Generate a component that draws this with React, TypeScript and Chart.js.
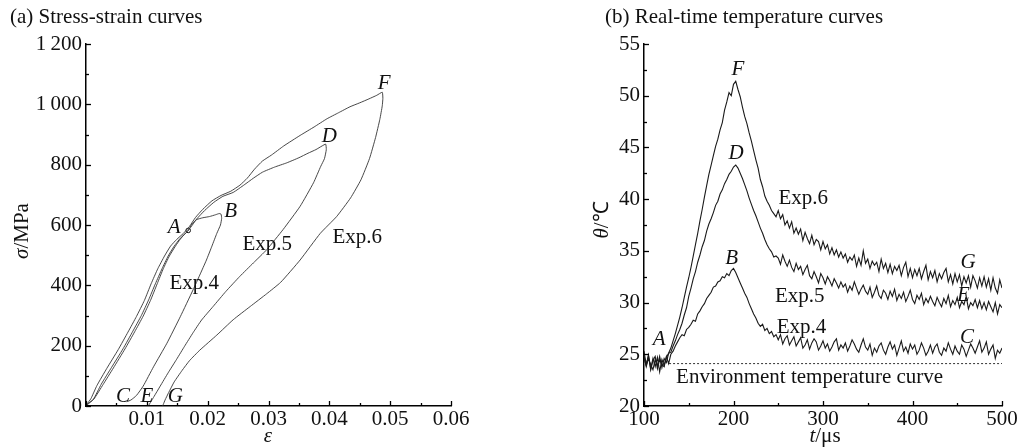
import React, { useEffect, useRef } from 'react';
import { Chart, registerables } from 'chart.js';
Chart.register(...registerables);

const FONT = '"Liberation Serif", "Times New Roman", serif';
const FS = 21;

// ---------- (a) Stress-strain curves ----------
const exp4Strain = [0.0002, 0.0013, 0.0028, 0.0045, 0.0064, 0.008, 0.0094, 0.0106, 0.0117, 0.0127, 0.0137, 0.0147, 0.0155, 0.0163, 0.0168, 0.0174, 0.0182, 0.0192, 0.0203, 0.0213, 0.0219, 0.0222, 0.0223, 0.0221, 0.0215, 0.0207, 0.0198, 0.0187, 0.0176, 0.0155, 0.0133, 0.0111, 0.0094, 0.0083, 0.0074, 0.0067];
const exp4Stress = [4, 23, 71, 126, 189, 246, 298, 350, 405, 455, 497, 530, 553, 572, 582, 603, 618, 624, 628, 634, 638, 636, 622, 600, 572, 530, 484, 434, 385, 296, 208, 130, 66, 35, 20, 14];

const exp5Strain = [0.0, 0.0012, 0.0025, 0.0042, 0.0061, 0.0077, 0.0091, 0.0103, 0.0114, 0.0125, 0.0135, 0.0145, 0.0155, 0.0165, 0.0172, 0.0182, 0.0195, 0.021, 0.0225, 0.0242, 0.026, 0.0275, 0.029, 0.031, 0.033, 0.035, 0.0365, 0.0378, 0.0388, 0.0394, 0.0395, 0.0392, 0.0386, 0.0374, 0.0352, 0.0324, 0.0297, 0.0275, 0.0253, 0.023, 0.0209, 0.019, 0.0176, 0.0162, 0.0149, 0.0135, 0.0122, 0.0112, 0.0106, 0.0103];
const exp5Stress = [3, 22, 72, 128, 190, 248, 300, 352, 405, 455, 497, 530, 556, 575, 592, 620, 648, 675, 695, 708, 733, 755, 775, 792, 806, 823, 838, 850, 862, 868, 850, 820, 795, 740, 662, 585, 518, 474, 430, 380, 330, 285, 243, 198, 155, 110, 66, 32, 12, 2];

const exp6Strain = [0.0001, 0.0008, 0.0018, 0.0034, 0.0053, 0.0069, 0.0083, 0.0096, 0.0107, 0.0118, 0.0129, 0.0139, 0.0149, 0.016, 0.017, 0.018, 0.0192, 0.0207, 0.0222, 0.0238, 0.0253, 0.0265, 0.0277, 0.029, 0.0305, 0.0325, 0.0352, 0.0375, 0.0396, 0.0415, 0.0434, 0.045, 0.0465, 0.0478, 0.0487, 0.0488, 0.0487, 0.0483, 0.0476, 0.0466, 0.0452, 0.0435, 0.0412, 0.0385, 0.0352, 0.032, 0.0297, 0.027, 0.0242, 0.0215, 0.0187, 0.017, 0.0158, 0.0145, 0.0136, 0.013, 0.0127, 0.0126];
const exp6Stress = [5, 24, 68, 124, 187, 245, 297, 350, 405, 455, 497, 530, 552, 572, 595, 625, 652, 680, 698, 712, 732, 755, 785, 812, 832, 862, 897, 925, 952, 972, 992, 1005, 1018, 1030, 1040, 1020, 995, 950, 890, 820, 750, 690, 628, 572, 484, 410, 372, 330, 286, 235, 185, 150, 118, 80, 45, 20, 5, 0];

const pointAStrain = [0.0168];
const pointAStress = [582];

const stressLabels = [
  { text: 'A', x: 0.0145, y: 591, italic: true },
  { text: 'B', x: 0.0238, y: 644, italic: true },
  { text: 'D', x: 0.04, y: 895, italic: true },
  { text: 'F', x: 0.049, y: 1070, italic: true },
  { text: 'C', x: 0.0061, y: 31, italic: true },
  { text: 'E', x: 0.01, y: 31, italic: true },
  { text: 'G', x: 0.0147, y: 31, italic: true },
  { text: 'Exp.4', x: 0.0178, y: 407, italic: false },
  { text: 'Exp.5', x: 0.0298, y: 534, italic: false },
  { text: 'Exp.6', x: 0.0446, y: 559, italic: false },
];

// ---------- (b) Real-time temperature curves ----------
const timeStartUs = 100;
const timeStepUs = 2.5;

const exp4Temp = [
  25.3, 24.0, 24.9, 23.6, 24.6, 23.8, 24.7, 23.3, 24.5, 23.9,
  24.8, 24.1, 25.0, 25.3, 25.8, 26.2, 26.6, 26.9, 26.8, 27.4,
  27.6, 27.9, 28.3, 28.2, 28.9, 29.2, 29.6, 29.9, 30.4, 30.7,
  31.0, 31.5, 31.6, 32.0, 32.1, 32.5, 32.4, 32.8, 32.6, 33.1,
  33.3, 32.9, 32.4, 31.9, 31.4, 30.9, 30.5, 29.9, 29.4, 28.9,
  28.5, 28.0, 27.7, 27.9, 27.3, 27.5, 27.0, 27.2, 26.7, 26.9,
  26.4, 26.9, 26.0, 26.5, 26.8, 25.9, 26.3, 26.7, 25.8, 26.2,
  26.6, 25.6, 25.9, 26.4, 25.5, 26.1, 26.5, 26.2, 25.4, 25.8,
  26.3, 25.6, 26.0, 25.3, 25.7, 26.2, 26.5, 25.4, 25.9, 25.6,
  26.1, 25.3, 25.8, 26.4, 26.0, 25.5, 25.2, 25.9, 26.5, 25.7,
  25.4, 26.0, 24.9, 25.6, 25.2, 25.8, 26.1, 25.4, 25.0, 25.7,
  26.2, 25.5, 25.9, 24.9, 25.6, 26.3, 25.3, 25.7, 25.1, 26.0,
  25.5, 25.9, 25.0, 25.4, 26.1, 25.6, 24.9, 25.3, 25.9, 25.1,
  25.7, 26.0, 25.2, 24.9, 25.6, 25.3, 26.1, 25.5, 25.0, 25.8,
  25.3, 25.0, 25.9, 25.5, 24.8, 25.4, 26.0, 25.6, 25.1, 25.7,
  26.3, 25.2, 25.6, 26.2, 25.0, 25.5, 25.9, 24.6, 25.4, 25.1,
  25.6,
];

const exp5Temp = [
  24.9, 23.8, 24.6, 24.0, 23.5, 24.5, 23.9, 24.8, 23.7, 24.6,
  24.2, 25.1, 25.2, 25.8, 26.3, 26.9, 27.4, 28.0, 28.8, 29.5,
  30.6, 31.4, 32.3, 33.0, 33.9, 34.6, 35.4, 36.0, 36.9, 37.6,
  38.1, 38.7, 39.4, 39.8, 40.5, 40.9, 41.5, 41.9, 42.4, 42.7,
  43.1, 43.3, 43.0, 42.5, 42.0, 41.4, 40.8, 40.1, 39.5, 38.9,
  38.4, 37.8, 37.2, 36.7, 36.1, 35.6, 35.2, 34.9, 34.4, 34.5,
  34.3, 33.7, 34.6, 34.0, 33.5, 34.1, 33.4, 33.0, 33.8, 33.2,
  33.5, 32.7, 33.2, 33.6, 32.6, 32.3, 33.0, 32.5, 31.9, 32.8,
  32.4, 31.8, 32.5, 32.1, 31.6, 32.3, 31.9, 31.4, 32.0, 31.5,
  31.8, 31.0, 31.6, 31.2, 32.0, 31.4, 30.8, 31.3, 31.7, 31.1,
  30.8, 31.5, 30.5, 31.0, 31.6, 30.7, 30.4, 31.2, 30.9, 30.3,
  31.1, 30.6, 31.3, 30.2, 30.8, 30.4, 31.0, 30.1, 30.6, 31.2,
  30.3, 29.9, 30.7, 30.3, 30.9, 29.8, 30.4, 30.0, 30.6, 30.1,
  29.7, 30.5, 30.0, 29.6, 30.4, 29.9, 30.7, 29.6, 30.2, 29.8,
  30.5, 29.5, 30.1, 29.8, 30.6, 29.4, 30.0, 29.7, 30.3, 29.5,
  30.2, 29.4, 30.0, 29.3, 30.1, 29.6, 29.1, 30.0, 28.9, 29.8,
  29.5,
];

const exp6Temp = [
  24.6, 23.9, 24.9, 23.5, 24.4, 24.8, 23.6, 24.5, 24.0, 23.8,
  24.7, 25.1, 25.6, 26.3, 27.0, 27.8, 28.6, 29.5, 30.5, 31.5,
  32.4, 33.4, 34.5, 35.6, 36.7, 37.9, 39.0, 40.2, 41.3, 42.4,
  43.3, 44.2, 45.1, 45.8, 46.7, 47.4, 48.6, 49.4, 50.3, 50.0,
  51.1, 51.4, 50.6, 49.9, 48.9, 48.0, 47.3, 46.4, 45.6, 44.7,
  43.8, 43.0, 41.9, 41.2, 40.3, 39.8, 39.4, 38.9, 38.6, 38.3,
  38.9, 38.1, 38.5, 37.5, 37.9, 37.2, 37.8, 36.7, 37.2, 36.6,
  37.1, 36.0, 36.8, 36.2, 35.7, 36.5, 35.6, 36.1, 35.9, 35.1,
  35.9, 35.2, 35.6, 34.7, 35.3, 34.6, 35.1, 34.4, 34.9, 34.3,
  34.7, 33.9, 34.4, 34.1, 34.6, 33.5, 34.3, 33.6, 35.0, 33.8,
  34.2, 33.3, 34.0, 33.6, 33.9, 33.0, 34.2, 33.3, 33.8, 32.9,
  33.7, 32.8, 33.5, 33.1, 33.6, 32.6, 33.4, 33.9, 32.5, 33.3,
  32.4, 33.2, 32.6, 33.3, 32.3, 33.0, 33.6, 32.2, 33.0, 32.4,
  33.1, 32.0, 32.8, 32.3, 32.9, 33.3, 32.0, 32.7, 31.8, 32.8,
  32.0, 32.7, 31.6, 32.5, 31.9, 32.6, 31.5, 32.6, 32.1, 31.4,
  32.4, 31.6, 32.5, 31.5, 32.3, 31.2, 32.4, 31.4, 30.9, 32.2,
  31.4,
];

const envTime = [128, 500];
const envTemp = [24.1, 24.1];

const tempLabels = [
  { text: 'F', x: 205, y: 52.5, italic: true },
  { text: 'D', x: 203, y: 44.4, italic: true },
  { text: 'B', x: 198, y: 34.3, italic: true },
  { text: 'A', x: 117, y: 26.45, italic: true },
  { text: 'G', x: 462, y: 33.9, italic: true },
  { text: 'E', x: 457, y: 30.7, italic: true },
  { text: 'C', x: 461, y: 26.6, italic: true },
  { text: 'Exp.6', x: 278, y: 40.1, italic: false },
  { text: 'Exp.5', x: 274, y: 30.6, italic: false },
  { text: 'Exp.4', x: 276, y: 27.6, italic: false },
  { text: 'Environment temperature curve', x: 285, y: 22.8, italic: false },
];

type Seg = [string, boolean];

function drawRich(ctx: CanvasRenderingContext2D, segs: Seg[], x: number, y: number, size: number, align: 'left' | 'center', rotate = false) {
  ctx.save();
  ctx.translate(x, y);
  if (rotate) ctx.rotate(-Math.PI / 2);
  const fonts = segs.map(([, it]) => `${it ? 'italic ' : ''}${size}px ${FONT}`);
  let total = 0;
  const widths = segs.map(([t], i) => {
    ctx.font = fonts[i];
    const w = ctx.measureText(t).width;
    total += w;
    return w;
  });
  let cx = align === 'center' ? -total / 2 : 0;
  ctx.textBaseline = 'middle';
  ctx.textAlign = 'left';
  ctx.fillStyle = '#111';
  segs.forEach(([t], i) => {
    ctx.font = fonts[i];
    ctx.fillText(t, cx, 0);
    cx += widths[i];
  });
  ctx.restore();
}

function makeTickPlugin(xMajor: number, xMinor: number, yMajor: number, yMinor: number) {
  return {
    id: 'innerTicks',
    afterDatasetsDraw(chart: any) {
      const ctx = chart.ctx as CanvasRenderingContext2D;
      const { left, bottom } = chart.chartArea;
      const xs = chart.scales.x;
      const ys = chart.scales.y;
      ctx.save();
      ctx.strokeStyle = '#000';
      ctx.lineWidth = 1.3;
      const nx = Math.round((xs.max - xs.min) / xMinor);
      for (let i = 0; i <= nx; i++) {
        const v = xs.min + i * xMinor;
        const r = v / xMajor;
        const major = Math.abs(r - Math.round(r)) < 1e-6;
        const px = Math.round(xs.getPixelForValue(v)) + 0.5;
        ctx.beginPath();
        ctx.moveTo(px, bottom);
        ctx.lineTo(px, bottom - (major ? 5 : 3));
        ctx.stroke();
      }
      const ny = Math.round((ys.max - ys.min) / yMinor);
      for (let i = 0; i <= ny; i++) {
        const v = ys.min + i * yMinor;
        const r = v / yMajor;
        const major = Math.abs(r - Math.round(r)) < 1e-6;
        const py = Math.round(ys.getPixelForValue(v)) + 0.5;
        ctx.beginPath();
        ctx.moveTo(left, py);
        ctx.lineTo(left + (major ? 5 : 3), py);
        ctx.stroke();
      }
      ctx.restore();
    },
  };
}

function makeTextPlugin(labels: { text: string; x: number; y: number; italic: boolean }[], extra: (ctx: CanvasRenderingContext2D) => void) {
  return {
    id: 'textLabels',
    afterDraw(chart: any) {
      const ctx = chart.ctx as CanvasRenderingContext2D;
      const xs = chart.scales.x;
      const ys = chart.scales.y;
      labels.forEach((l) => {
        drawRich(ctx, [[l.text, l.italic]], xs.getPixelForValue(l.x), ys.getPixelForValue(l.y), FS, 'center');
      });
      extra(ctx);
    },
  };
}

const tickFont = { family: FONT, size: FS };
const hiddenGrid = { display: false, drawTicks: false, tickLength: 0 };

function StressChart() {
  const ref = useRef<HTMLCanvasElement>(null);
  useEffect(() => {
    const toXY = (xs: number[], ys: number[]) => xs.map((x, i) => ({ x, y: ys[i] }));
    const lineStyle = { borderColor: '#333', borderWidth: 0.9, pointRadius: 0, tension: 0.15, showLine: true, fill: false };
    const chart = new Chart(ref.current!, {
      type: 'scatter',
      data: {
        datasets: [
          { label: 'Exp.4', data: toXY(exp4Strain, exp4Stress), ...lineStyle },
          { label: 'Exp.5', data: toXY(exp5Strain, exp5Stress), ...lineStyle },
          { label: 'Exp.6', data: toXY(exp6Strain, exp6Stress), ...lineStyle },
          { label: 'A', data: toXY(pointAStrain, pointAStress), showLine: false, pointRadius: 2.3, backgroundColor: '#fff', borderColor: '#111', borderWidth: 1 },
        ],
      },
      options: {
        animation: false,
        responsive: false,
        layout: { padding: { top: 44, right: 59, left: 0, bottom: 0 } },
        plugins: { legend: { display: false }, tooltip: { enabled: false } },
        scales: {
          x: {
            type: 'linear', min: 0, max: 0.06,
            grid: hiddenGrid,
            border: { display: true, color: '#000', width: 1.5 },
            ticks: { stepSize: 0.01, color: '#111', font: tickFont, padding: 1, maxRotation: 0, callback: (v: any) => (Math.abs(v) < 1e-9 ? '' : Number(v).toFixed(2)) },
            afterFit: (s: any) => { s.height = 41; },
          },
          y: {
            type: 'linear', min: 0, max: 1200,
            grid: hiddenGrid,
            border: { display: true, color: '#000', width: 1.5 },
            ticks: { stepSize: 200, color: '#111', font: tickFont, padding: 4, callback: (v: any) => (v >= 1000 ? `${Math.floor(v / 1000)}\u2009${String(v % 1000).padStart(3, '0')}` : String(v)) },
            afterFit: (s: any) => { s.width = 86; },
          },
        },
      } as any,
      plugins: [
        makeTickPlugin(0.01, 0.005, 200, 100),
        makeTextPlugin(stressLabels, (ctx) => {
          drawRich(ctx, [['(a) Stress-strain curves', false]], 10, 17, FS, 'left');
          drawRich(ctx, [['σ', true], ['/MPa', false]], 22, 231, FS, 'center', true);
          drawRich(ctx, [['ε', true]], 268, 436, FS, 'center');
        }),
      ],
    });
    return () => chart.destroy();
  }, []);
  return <canvas ref={ref} width={510} height={447} style={{ position: 'absolute', left: 0, top: 0 }} />;
}

function TempChart() {
  const ref = useRef<HTMLCanvasElement>(null);
  useEffect(() => {
    const timeUs = exp4Temp.map((_, i) => timeStartUs + timeStepUs * i);
    const toXY = (xs: number[], ys: number[]) => xs.map((x, i) => ({ x, y: ys[i] }));
    const lineStyle = { borderColor: '#1a1a1a', borderWidth: 1.1, pointRadius: 0, tension: 0, showLine: true, fill: false };
    const chart = new Chart(ref.current!, {
      type: 'scatter',
      data: {
        datasets: [
          { label: 'Exp.4', data: toXY(timeUs, exp4Temp), ...lineStyle },
          { label: 'Exp.5', data: toXY(timeUs, exp5Temp), ...lineStyle },
          { label: 'Exp.6', data: toXY(timeUs, exp6Temp), ...lineStyle },
          { label: 'Environment', data: toXY(envTime, envTemp), showLine: true, pointRadius: 0, borderColor: '#333', borderWidth: 1, borderDash: [2, 2] },
        ],
      },
      options: {
        animation: false,
        responsive: false,
        layout: { padding: { top: 44, right: 24, left: 0, bottom: 0 } },
        plugins: { legend: { display: false }, tooltip: { enabled: false } },
        scales: {
          x: {
            type: 'linear', min: 100, max: 500,
            grid: hiddenGrid,
            border: { display: true, color: '#000', width: 1.5 },
            ticks: { stepSize: 100, color: '#111', font: tickFont, padding: 1, maxRotation: 0 },
            afterFit: (s: any) => { s.height = 41; },
          },
          y: {
            type: 'linear', min: 20, max: 55,
            grid: hiddenGrid,
            border: { display: true, color: '#000', width: 1.5 },
            ticks: { stepSize: 5, color: '#111', font: tickFont, padding: 4 },
            afterFit: (s: any) => { s.width = 134; },
          },
        },
      } as any,
      plugins: [
        makeTickPlugin(100, 50, 5, 2.5),
        makeTextPlugin(tempLabels, (ctx) => {
          drawRich(ctx, [['(b) Real-time temperature curves', false]], 95, 17, FS, 'left');
          drawRich(ctx, [['θ', true], ['/℃', false]], 92, 220, FS, 'center', true);
          drawRich(ctx, [['t', true], ['/μs', false]], 315, 436, FS, 'center');
        }),
      ],
    });
    return () => chart.destroy();
  }, []);
  return <canvas ref={ref} width={516} height={447} style={{ position: 'absolute', left: 510, top: 0 }} />;
}

export default function App() {
  return (
    <div style={{ position: 'fixed', left: 0, top: 0, width: 1026, height: 447, background: '#fff' }}>
      <StressChart />
      <TempChart />
    </div>
  );
}
